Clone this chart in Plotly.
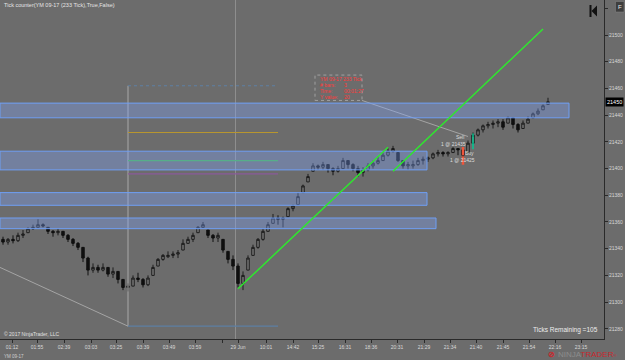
import plotly.graph_objects as go

# ---------------- data ----------------
open_ = [21347,21345,21347,21346,21350,21352,21355,21356,21358,21356,
         21353,21352,21353,21350,21347,21344,21341,21333,21324,21326,
         21324,21326,21321,21323,21317,21311,21312,21318,21317,21313,
         21320,21327,21332,21334,21335,21336,21339,21344,21347,21352,
         21356,21354,21350,21348,21347,21338,21332,21327,21314,21324,
         21335,21341,21347,21353,21359,21363,21362,21364,21370,21373,
         21382,21390,21398,21402,21401,21403,21400,21398,21400,21406,
         21403,21400,21397,21399,21402,21404,21406,21410,21413,21412,
         21406,21402,21402,21403,21406,21407,21408,21411,21412,21411,
         21412,21415,21414,21412,21419,21425,21429,21432,21433,21434,
         21435,21434,21438,21433,21430,21434,21438,21441,21444,21448]
high = [21349,21348,21350,21352,21354,21356,21358,21362,21359,21356,
        21354,21355,21353,21351,21348,21345,21341,21334,21329,21328,
        21329,21326,21326,21323,21317,21314,21320,21322,21318,21320,
        21328,21333,21336,21338,21338,21339,21347,21349,21352,21357,
        21360,21354,21351,21352,21347,21338,21335,21329,21323,21335,
        21343,21348,21355,21360,21366,21365,21364,21371,21373,21382,
        21388,21396,21404,21403,21405,21403,21401,21402,21408,21406,
        21404,21402,21401,21404,21406,21409,21412,21415,21417,21412,
        21406,21405,21406,21408,21409,21409,21412,21414,21413,21413,
        21416,21415,21415,21421,21427,21430,21433,21435,21436,21437,
        21437,21439,21438,21434,21436,21439,21442,21445,21448,21453]
low = [21343,21343,21344,21345,21348,21352,21354,21356,21356,21351,
       21349,21350,21348,21345,21342,21339,21330,21320,21322,21322,
       21323,21319,21318,21314,21309,21308,21312,21315,21311,21312,
       21320,21327,21331,21333,21333,21333,21339,21344,21345,21352,
       21356,21348,21345,21345,21337,21329,21324,21311,21309,21324,
       21335,21340,21346,21353,21359,21358,21356,21364,21368,21373,
       21382,21390,21398,21399,21399,21397,21395,21397,21400,21400,
       21398,21394,21394,21398,21400,21403,21406,21409,21412,21405,
       21400,21399,21400,21402,21403,21405,21407,21409,21409,21409,
       21412,21410,21405,21412,21418,21424,21427,21430,21430,21431,
       21429,21434,21430,21427,21430,21434,21438,21440,21444,21448]
close = [21345,21347,21346,21350,21351,21355,21356,21358,21357,21353,
         21352,21353,21350,21347,21344,21341,21333,21324,21326,21324,
         21326,21321,21323,21317,21311,21312,21318,21317,21313,21318,
         21326,21332,21335,21335,21336,21337,21344,21347,21350,21356,
         21358,21350,21348,21350,21339,21332,21327,21314,21320,21333,
         21341,21347,21353,21358,21363,21362,21363,21370,21372,21379,
         21387,21394,21402,21401,21403,21400,21398,21400,21406,21403,
         21400,21397,21399,21402,21404,21406,21410,21413,21415,21406,
         21402,21403,21403,21406,21407,21408,21411,21412,21411,21412,
         21415,21414,21410,21419,21425,21429,21432,21433,21434,21435,
         21431,21438,21433,21429,21434,21437,21441,21443,21447,21450]
bars = list(range(len(close)))

tick_bars = [1.8, 6.8, 12.2, 17.6, 22.6, 28, 33.2, 38.4, 43.8, 47, 52.6, 58, 63,
             68.4, 73.6, 78.8, 84.2, 89.4, 94.6, 100, 105.2, 110.4, 115.6]
tick_labels = ["01:12", "01:55", "02:39", "03:03", "03:25", "03:39", "03:49", "03:59", "",
               "29 Jun", "10:01", "14:42", "15:25", "16:31", "18:36", "20:31", "21:29",
               "21:34", "21:40", "21:45", "21:54", "22:16", "23:15"]
y_ticks = [21280, 21300, 21320, 21340, 21360, 21380, 21400, 21420, 21440, 21460, 21480, 21500, 21520]
y_tick_labels = ["21280", "21300", "21320", "21340", "21360", "21380", "21400", "21420",
                 "21440", "21460", "21480", "21500", ""]

# drawing objects (bar index, price)
zones = [(21438, 21449, 113.2), (21399, 21413, 84.8), (21372.5, 21382, 84.8), (21355, 21363, 86.6)]
fib_span = (25, 55)
fib_prices = [21462, 21427, 21406, 21396, 21282]
fib_colors = ["#5d7fa3", "#b8962e", "#3fb34a", "#8a5a9a", "#5d7fa3"]
trend_lines = [((47, 21310), (77, 21416)), ((78, 21398), (108, 21504.5))]
gray_lines = [((-0.6, 21326), (25, 21282)), ((71.8, 21451), (93, 21424))]
session_break = 46.5
last_price = 21450

X_RANGE = [-0.6, 120.2]
Y_RANGE = [21272.4, 21526.2]
BG = "#6c6c6c"
FONT = "Liberation Sans, Arial, sans-serif"
PW, PH = 604, 339

def px(x):
    return x / PW
def py(y):
    return 1 - y / PH

fig = go.Figure()
fig.add_trace(go.Candlestick(
    x=bars, open=open_, high=high, low=low, close=close,
    increasing=dict(line=dict(color="#1c1c1c", width=1), fillcolor="#7a7a7a"),
    decreasing=dict(line=dict(color="#101010", width=1), fillcolor="#101010"),
    whiskerwidth=0, showlegend=False, hoverinfo="skip"))

shapes = []
shapes.append(dict(type="line", xref="x", yref="paper", x0=session_break, x1=session_break,
                   y0=0, y1=1, line=dict(color="#8e8e8e", width=1)))
shapes.append(dict(type="line", xref="x", yref="y", x0=fib_span[0], x1=fib_span[0],
                   y0=fib_prices[0], y1=fib_prices[-1], line=dict(color="#a8a8a8", width=1)))
for k, (p, c) in enumerate(zip(fib_prices, fib_colors)):
    shapes.append(dict(type="line", xref="x", yref="y", x0=fib_span[0], x1=fib_span[1],
                       y0=p, y1=p, line=dict(color=c, width=1.2, dash="dot" if k == 0 else "solid")))
for (a, b) in gray_lines:
    shapes.append(dict(type="line", xref="x", yref="y", x0=a[0], y0=a[1], x1=b[0], y1=b[1],
                       line=dict(color="#a4a4a4", width=1)))
for (lo, hi, xe) in zones:
    shapes.append(dict(type="rect", xref="x", yref="y", x0=X_RANGE[0], x1=xe, y0=lo, y1=hi,
                       fillcolor="rgba(130,165,255,0.35)", line=dict(color="#6f9ff5", width=1),
                       layer="above"))
for (a, b) in trend_lines:
    shapes.append(dict(type="line", xref="x", yref="y", x0=a[0], y0=a[1], x1=b[0], y1=b[1],
                       line=dict(color="#2ee82e", width=1.5)))
shapes.append(dict(type="rect", xref="x", yref="y", x0=62.4, x1=71.8, y0=21451, y1=21470,
                   line=dict(color="#a0a0a0", width=1, dash="dot")))
shapes.append(dict(type="rect", xref="paper", yref="paper", x0=px(589.5), x1=px(591.5),
                   y0=py(17), y1=py(5), fillcolor="#111", line=dict(width=0)))
shapes.append(dict(type="path", xref="paper", yref="paper",
                   path=f"M {px(591.5)} {py(11)} L {px(597)} {py(5.5)} L {px(597)} {py(16.5)} Z",
                   fillcolor="#111", line=dict(width=0)))
shapes.append(dict(type="rect", xref="paper", yref="paper", x0=px(615.5), x1=px(624),
                   y0=py(12), y1=py(1.5), fillcolor="#3e3e3e", line=dict(color="#888", width=0.5)))

fig.add_trace(go.Scatter(x=[92, 92], y=[21413, 21406], mode="markers",
                         marker=dict(symbol="line-ns-open", size=6, line=dict(color="#ff3cff", width=2.5)),
                         showlegend=False, hoverinfo="skip"))
fig.add_trace(go.Scatter(x=[94, 94], y=[21422, 21416.5], mode="markers",
                         marker=dict(symbol="line-ns-open", size=[8, 4], line=dict(color="#3fa0ff", width=2)),
                         showlegend=False, hoverinfo="skip"))

ann = []
def A(text, x, y, xref="x", yref="y", size=5, color="#e0e0e0", xanchor="left", yanchor="middle", **kw):
    ann.append(dict(text=text, x=x, y=y, xref=xref, yref=yref, showarrow=False,
                    font=dict(size=size, color=color, family=FONT), xanchor=xanchor,
                    yanchor=yanchor, **kw))

red = "#ff3a3a"
A("YM 09-17 233 Tick", 63, 21467, color=red)
A("# bars:", 63, 21462.6, color=red); A("3", 67.7, 21462.6, color=red)
A("Time:", 63, 21458.1, color=red); A("00:01:27", 67.7, 21458.1, color=red)
A("Y value:", 63, 21453.4, color=red); A("20", 67.7, 21453.4, color=red)

A("Sell", 91.4, 21424, color="#dcdcdc", xanchor="center")
A("1 @ 21435", 90, 21418.4, color="#dcdcdc", xanchor="center")
A("Buy", 93.2, 21411.7, color="#dcdcdc", xanchor="center")
A("1 @ 21425", 91.8, 21406.4, color="#dcdcdc", xanchor="center")

A("Tick counter(YM 09-17 (233 Tick),True,False)", px(2), py(5.5), xref="paper", yref="paper",
  size=5.5, color="#e4e4e4")
A("© 2017 NinjaTrader, LLC", px(2), py(334), xref="paper", yref="paper", size=5, color="#e0e0e0")
A("Ticks Remaining =105", px(600), py(330), xref="paper", yref="paper", size=6.5,
  color="#ececec", xanchor="right")
A("YM 09-17", px(2), py(356), xref="paper", yref="paper", size=4.5, color="#cfcfcf")
A("<span style='color:#8c8c8c'>NINJA</span><span style='color:#c8282e'>TRADER</span>"
  "<span style='color:#c8282e;font-size:4px'>®</span>",
  px(556), py(354.5), xref="paper", yref="paper", size=8, color="#c8282e")
A("<b>⊘</b>", px(551), py(354.5), xref="paper", yref="paper", size=8, color="#c8282e",
  xanchor="center")
A("F", px(619.7), py(6.8), xref="paper", yref="paper", size=6, color="#e8e8e8", xanchor="center")
A(str(last_price), 1.0, last_price, xref="paper", yref="y", size=5.5, color="#ffffff",
  bgcolor="#000000", borderpad=1, xshift=1)

fig.update_layout(
    width=625, height=360,
    margin=dict(l=0, r=21, t=0, b=21),
    paper_bgcolor=BG, plot_bgcolor=BG,
    shapes=shapes, annotations=ann,
    font=dict(family=FONT, size=5, color="#d8d8d8"),
    showlegend=False,
    xaxis=dict(range=X_RANGE, rangeslider=dict(visible=False), showgrid=False, zeroline=False,
               tickmode="array", tickvals=tick_bars, ticktext=tick_labels,
               ticks="outside", ticklen=3, tickcolor="#2a2a2a", showline=True,
               linecolor="#2a2a2a", linewidth=1, tickfont=dict(size=5, color="#d8d8d8")),
    yaxis=dict(range=Y_RANGE, side="right", showgrid=False, zeroline=False,
               tickmode="array", tickvals=y_ticks, ticktext=y_tick_labels, ticks="outside", ticklen=3,
               tickcolor="#2a2a2a", showline=True, linecolor="#2a2a2a", linewidth=1,
               tickfont=dict(size=5, color="#d8d8d8")),
)

fig.write_html("out.html")
